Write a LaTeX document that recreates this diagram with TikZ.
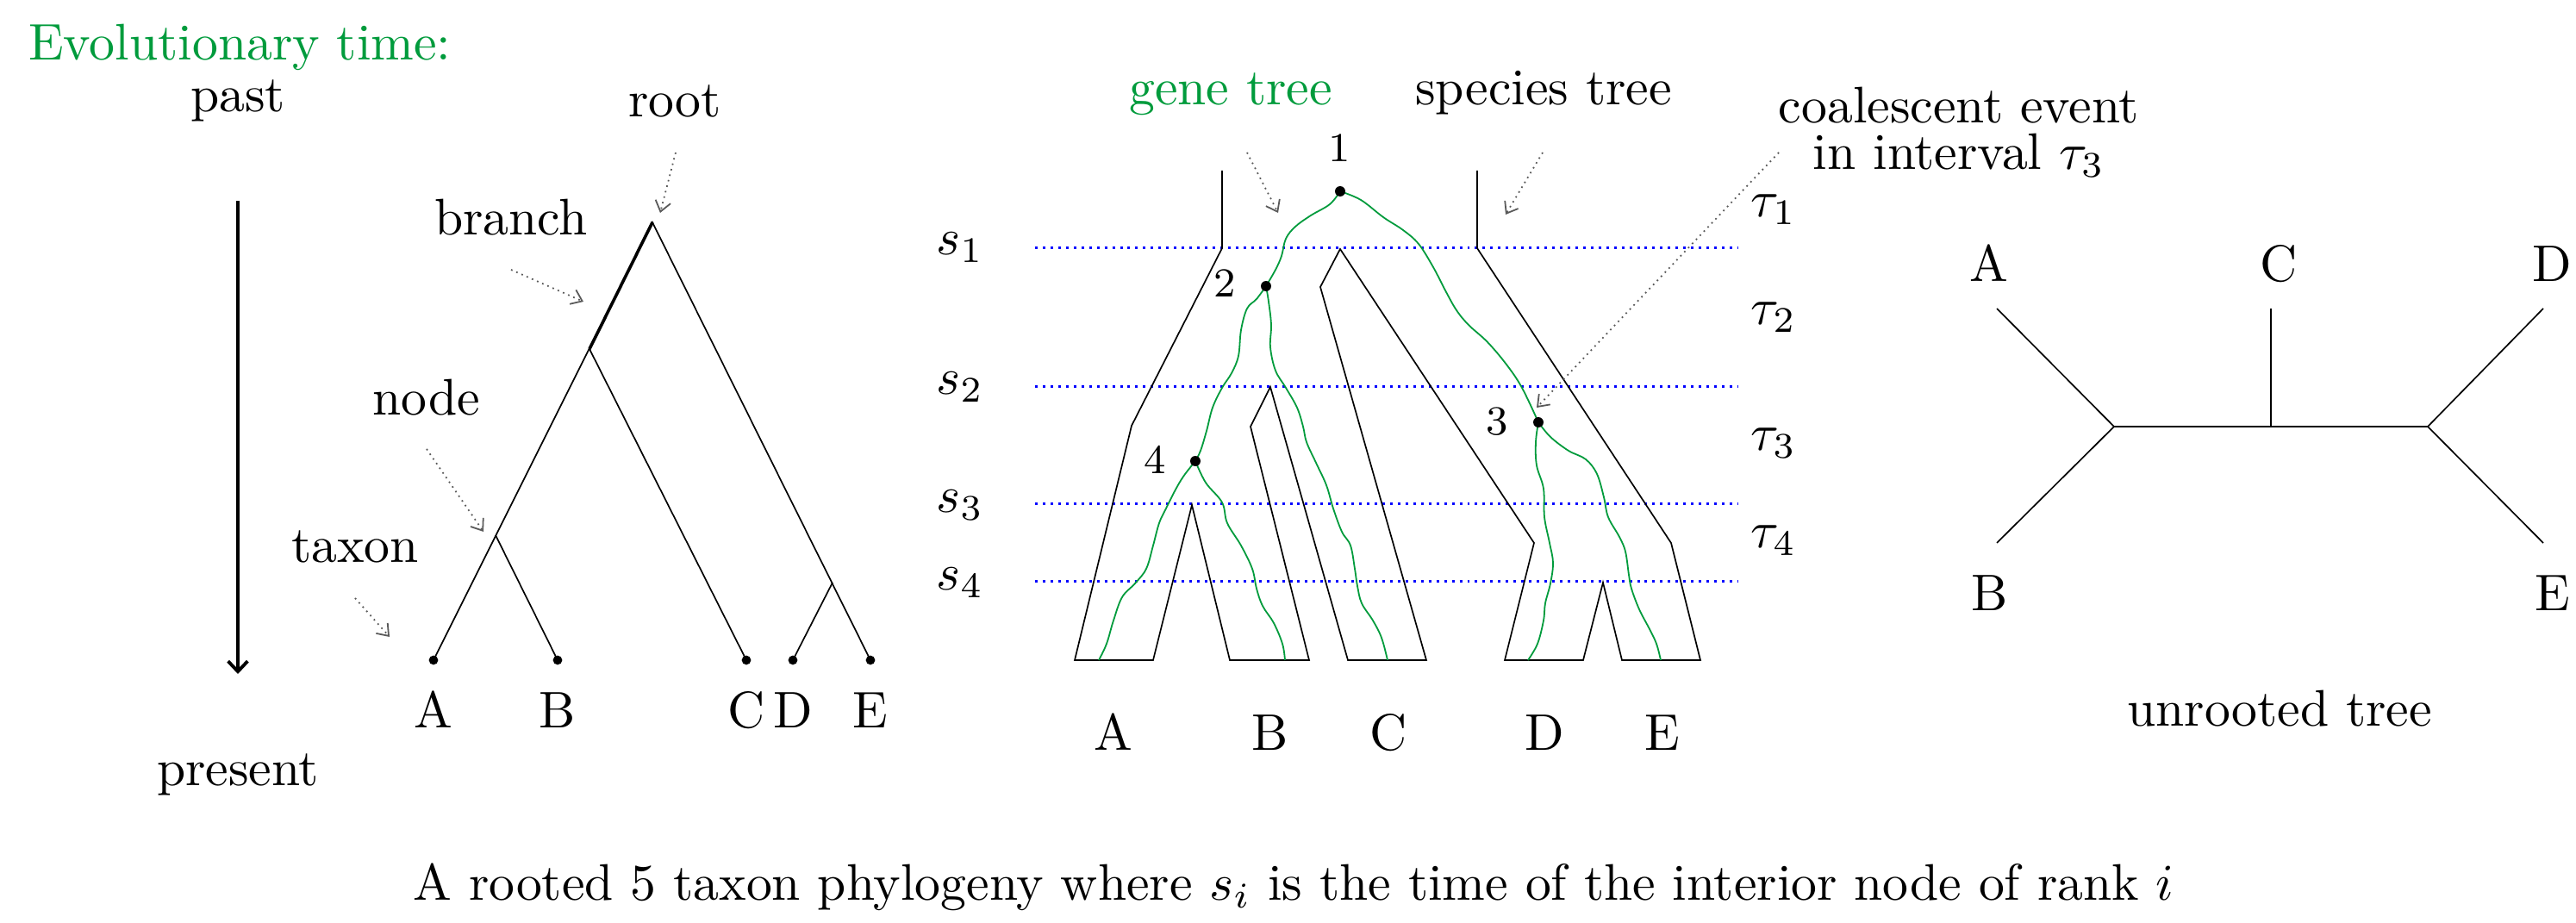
\documentclass[tikz,border=0pt]{standalone}
\usepackage{xcolor}
\usepackage{amsmath}
\usepackage{tikz}
\usetikzlibrary{arrows.meta, positioning, calc}
\definecolor{mygreen}{RGB}{0,155,60}
\definecolor{myblue}{RGB}{0,0,255}
\definecolor{mygray}{RGB}{90,90,90}
\tikzset{
  treeline/.style={line width=0.28pt, color=black},
  thickline/.style={line width=0.6pt, color=black},
  geneline/.style={line width=0.3pt, color=mygreen},
  speciesline/.style={line width=0.28pt, color=black, line join=miter},
  rankline/.style={densely dotted, line width=0.5pt, color=myblue},
  pointer/.style={-{Straight Barb[length=2pt,width=3pt]}, line width=0.3pt,
    color=mygray, dash pattern=on 0.3pt off 0.8pt},
  timearrow/.style={-{Straight Barb[length=2pt,width=3.8pt]}, line width=0.65pt},
  txt/.style={anchor=base, inner sep=0pt},
  num/.style={anchor=base, inner sep=0pt, font=\footnotesize}
}

\begin{document}
\begin{tikzpicture}[x=1.675pt, y=-1.675pt]
  \useasboundingbox (0,0) rectangle (298.9,107.1);

  % Rooted tree with evolutionary time
  \node[txt, anchor=base west, color=mygreen] (evo) at (3.2,7.0) {Evolutionary time:};
  \node[txt] (past) at (27.6,13.0) {past};
  \node[txt] (present) at (27.6,91.2) {present};
  \coordinate (tstart) at (27.6,23.3);
  \coordinate (tend) at (27.6,78.2);
  \draw[timearrow] (tstart) -- (tend);

  \coordinate (root) at (75.7,25.8);
  \coordinate (abc) at (68.4,40.5);
  \coordinate (ab) at (57.5,62.1);
  \coordinate (de) at (96.6,67.6);
  \coordinate (la) at (50.3,76.6);
  \coordinate (lb) at (64.7,76.6);
  \coordinate (lc) at (86.6,76.6);
  \coordinate (ld) at (92.0,76.6);
  \coordinate (le) at (101.0,76.6);
  \draw[treeline] (la) -- (root) -- (le);
  \draw[thickline] (root) -- (abc);
  \draw[treeline] (abc) -- (lc);
  \draw[treeline] (ab) -- (lb);
  \draw[treeline] (de) -- (ld);
  \foreach \p in {la,lb,lc,ld,le} \fill (\p) circle (0.9pt);
  \node[txt] (ta) at (50.3,84.5) {A};
  \node[txt] (tb) at (64.7,84.5) {B};
  \node[txt] (tc) at (86.6,84.5) {C};
  \node[txt] (td) at (92.0,84.5) {D};
  \node[txt] (te) at (101.0,84.5) {E};

  \node[txt] (rootlbl) at (78.3,13.6) {root};
  \node[txt] (branchlbl) at (59.3,27.3) {branch};
  \node[txt] (nodelbl) at (49.5,48.2) {node};
  \node[txt] (taxonlbl) at (41.2,65.3) {taxon};
  \coordinate (rootfrom) at (78.4,17.7);  \coordinate (rootto) at (76.6,24.7);
  \coordinate (branchfrom) at (59.3,31.3); \coordinate (branchto) at (67.7,35.0);
  \coordinate (nodefrom) at (49.5,52.1);  \coordinate (nodeto) at (56.1,61.7);
  \coordinate (taxonfrom) at (41.2,69.4); \coordinate (taxonto) at (45.2,73.9);
  \draw[pointer] (rootfrom) -- (rootto);
  \draw[pointer] (branchfrom) -- (branchto);
  \draw[pointer] (nodefrom) -- (nodeto);
  \draw[pointer] (taxonfrom) -- (taxonto);

  % Gene tree inside species tree
  \draw[rankline] (120.1,28.8) -- (201.6,28.8);
  \draw[rankline] (120.1,44.9) -- (201.6,44.9);
  \draw[rankline] (120.1,58.5) -- (201.6,58.5);
  \draw[rankline] (120.1,67.5) -- (201.6,67.5);
  \node[txt] (s1) at (111.4,29.6) {$s_1$};
  \node[txt] (s2) at (111.4,45.8) {$s_2$};
  \node[txt] (s3) at (111.4,59.5) {$s_3$};
  \node[txt] (s4) at (111.4,68.5) {$s_4$};
  \node[txt] (tau1) at (205.8,25.2) {$\tau_1$};
  \node[txt] (tau2) at (205.8,37.7) {$\tau_2$};
  \node[txt] (tau3) at (205.8,52.3) {$\tau_3$};
  \node[txt] (tau4) at (205.8,63.6) {$\tau_4$};

  \draw[speciesline] (141.8,19.8) -- (141.8,28.8) -- (131.3,49.4) -- (124.7,76.6)
    -- (133.8,76.6) -- (138.3,58.6) -- (142.7,76.6) -- (151.9,76.6)
    -- (145.1,49.5) -- (147.4,44.9) -- (156.4,76.6) -- (165.5,76.6)
    -- (153.2,33.3) -- (155.5,28.9) -- (178.0,63.0) -- (174.6,76.6)
    -- (183.7,76.6) -- (186.0,67.6) -- (188.2,76.6) -- (197.3,76.6)
    -- (193.9,63.0) -- (171.4,28.8) -- (171.4,19.8);

  \coordinate (g1) at (155.5,22.2);
  \coordinate (g2) at (146.9,33.2);
  \coordinate (g3) at (178.5,49.0);
  \coordinate (g4) at (138.7,53.5);
  \draw[geneline] plot[smooth, tension=0.6] coordinates {(g1) (154.3,23.7) (152.1,25.0)
    (150.3,26.3) (149.2,27.7) (148.7,29.7) (148.0,31.3) (g2)};
  \draw[geneline] plot[smooth, tension=0.6] coordinates {(g1) (157.9,23.2) (160.5,25.2)
    (162.8,26.7) (164.6,28.3) (166.3,31.0) (167.7,33.7) (169.0,36.0) (170.4,37.7)
    (172.6,39.7) (174.8,42.3) (176.6,45.0) (g3)};
  \draw[geneline] plot[smooth, tension=0.6] coordinates {(g2) (145.8,34.7) (144.7,35.8)
    (144.0,38.3) (143.7,41.3) (142.9,43.3) (141.8,45.0) (140.7,47.3) (140.0,50.0)
    (139.3,52.3) (g4)};
  \draw[geneline] plot[smooth, tension=0.6] coordinates {(g2) (147.2,35.0) (147.5,37.7)
    (147.4,40.3) (148.0,43.0) (149.2,45.0) (150.5,47.3) (151.2,49.5) (151.6,51.3)
    (152.7,53.7) (153.9,56.3) (154.7,59.0) (155.7,61.7) (156.7,63.3) (157.2,66.0)
    (157.5,68.0) (158.0,70.0) (159.3,72.0) (160.3,74.0) (161.0,76.6)};
  \draw[geneline] plot[smooth, tension=0.6] coordinates {(g4) (137.3,55.3) (136.3,57.0)
    (135.3,59.0) (134.5,60.7) (133.8,63.3) (133.0,66.0) (131.7,67.7) (130.2,69.3)
    (129.2,72.0) (128.4,74.7) (127.5,76.6)};
  \draw[geneline] plot[smooth, tension=0.6] coordinates {(g4) (139.9,56.0) (141.8,58.3)
    (142.4,60.7) (144.0,63.3) (145.3,66.0) (145.8,68.3) (146.5,70.3) (147.8,72.3)
    (148.8,74.7) (149.1,76.6)};
  \draw[geneline] plot[smooth, tension=0.6] coordinates {(g3) (178.2,51.3) (178.3,54.0)
    (179.1,56.7) (179.2,60.0) (179.8,63.0) (180.2,65.3) (179.9,67.7) (179.3,70.0)
    (179.1,72.0) (178.4,74.7) (177.3,76.6)};
  \draw[geneline] plot[smooth, tension=0.6] coordinates {(g3) (179.9,50.7) (182.0,52.3)
    (184.0,53.3) (185.3,55.0) (186.1,57.7) (186.6,60.0) (187.9,62.3) (188.6,64.0)
    (189.0,66.7) (189.3,68.3) (190.2,70.7) (191.4,73.0) (192.2,74.7) (192.7,76.6)};
  \foreach \g in {g1,g2,g3,g4} \fill (\g) circle (1pt);
  \node[num] (n1) at (155.4,18.8) {1};
  \node[num] (n2) at (142.1,34.5) {2};
  \node[num] (n3) at (173.7,50.5) {3};
  \node[num] (n4) at (134.0,55.0) {4};

  \node[txt] (sa) at (129.2,87.1) {A};
  \node[txt] (sb) at (147.4,87.1) {B};
  \node[txt] (sc) at (161.1,87.1) {C};
  \node[txt] (sd) at (179.2,87.1) {D};
  \node[txt] (se) at (192.9,87.1) {E};

  \node[txt, color=mygreen] (genelbl) at (142.8,12.2) {gene tree};
  \node[txt] (specieslbl) at (179.1,12.2) {species tree};
  \node[txt] (coal1) at (227.3,14.3) {coalescent event};
  \node[txt] (coal2) at (227.3,19.7) {in interval $\tau_3$};
  \coordinate (genefrom) at (144.7,17.7);    \coordinate (geneto) at (148.3,24.7);
  \coordinate (speciesfrom) at (179.0,17.7); \coordinate (speciesto) at (174.7,24.9);
  \coordinate (coalfrom) at (206.4,17.7);    \coordinate (coalto) at (178.3,47.3);
  \draw[pointer] (genefrom) -- (geneto);
  \draw[pointer] (speciesfrom) -- (speciesto);
  \draw[pointer] (coalfrom) -- (coalto);

  % Unrooted tree
  \coordinate (ua) at (231.7,35.8);
  \coordinate (ub) at (231.7,63.0);
  \coordinate (ul) at (245.3,49.5);
  \coordinate (uc) at (263.5,49.5);
  \coordinate (uct) at (263.5,35.8);
  \coordinate (ur) at (281.7,49.5);
  \coordinate (ud) at (295.1,35.8);
  \coordinate (ue) at (295.1,63.0);
  \draw[treeline] (ua) -- (ul) -- (ub);
  \draw[treeline] (ul) -- (ur);
  \draw[treeline] (uct) -- (uc);
  \draw[treeline] (ud) -- (ur) -- (ue);
  \node[txt] (ua-lbl) at (230.8,32.7) {A};
  \node[txt] (uc-lbl) at (264.4,32.7) {C};
  \node[txt] (ud-lbl) at (296.1,32.7) {D};
  \node[txt] (ub-lbl) at (230.9,70.9) {B};
  \node[txt] (ue-lbl) at (296.2,70.9) {E};
  \node[txt] (unrooted) at (264.5,84.3) {unrooted tree};

  % Caption
  \node[txt] (caption) at (150.1,104.5) {A rooted 5 taxon phylogeny where $s_i$ is the time of the interior node of rank $i$};
\end{tikzpicture}
\end{document}
